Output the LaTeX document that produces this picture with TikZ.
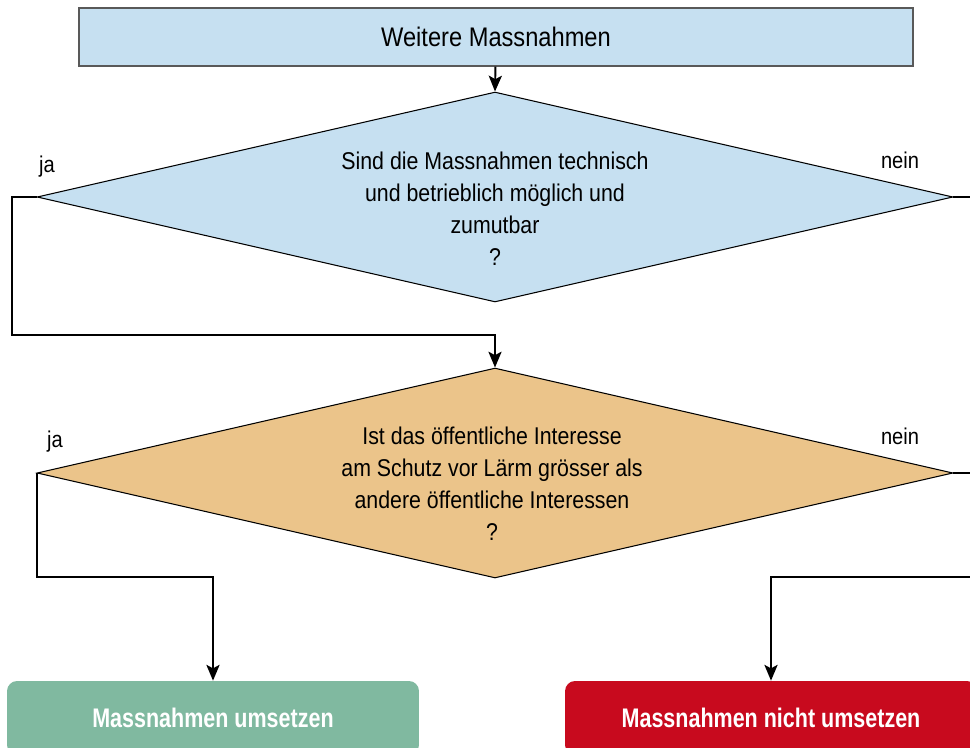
\documentclass[tikz,border=0pt]{standalone}
\usepackage{fontspec}
\setmainfont[FakeStretch=0.88]{Liberation Sans}
\newfontfamily\boxfont[FakeStretch=0.8]{Liberation Sans}
\usepackage{tikz}
\usetikzlibrary{arrows.meta,shapes.geometric}
\tikzset{>={Stealth[length=9pt,width=7.5pt,inset=2pt]}}
\definecolor{frageblau}{RGB}{198,224,241}
\definecolor{frageorange}{RGB}{235,196,138}
\definecolor{jagruen}{RGB}{128,185,160}
\definecolor{neinrot}{RGB}{200,10,30}

\begin{document}
\begin{tikzpicture}[x=0.02cm,y=-0.02cm]

\tikzstyle{titel}=[draw=black!65,line width=0.8pt,fill=frageblau,minimum width=16.68cm,minimum height=1.16cm,font=\fontsize{15.3}{18}\selectfont]
\tikzstyle{frage}=[diamond,draw,line width=0.6pt,minimum width=18.32cm,minimum height=4.2cm,inner sep=0pt]
\tikzstyle{fragetext}=[align=center,font=\fontsize{13.8}{18.2}\selectfont]
\tikzstyle{antwort}=[font=\fontsize{13}{15}\selectfont]
\tikzstyle{ende}=[rounded corners=0.2cm,minimum width=8.24cm,minimum height=1.48cm,text=white,font=\boxfont\bfseries\fontsize{15.3}{18}\selectfont]
\tikzstyle{pfeil}=[line width=1.1pt,->]

  \useasboundingbox (0,0) rectangle (970,747);
  \clip (0,0) rectangle (970,747);

  \node[titel] (weitere) at (496,37) {Weitere Massnahmen};

  \node[frage,fill=frageblau] (f1) at (495,197) {};
  \node[fragetext] (f1text) at (495,209) {Sind die Massnahmen technisch\\und betrieblich möglich und\\zumutbar\\?};

  \node[frage,fill=frageorange] (f2) at (495,473) {};
  \node[fragetext] (f2text) at (492,484) {Ist das öffentliche Interesse\\am Schutz vor Lärm grösser als\\andere öffentliche Interessen\\?};

  \node[ende,fill=jagruen] (umsetzen) at (213,718) {Massnahmen umsetzen};
  \node[ende,fill=neinrot] (nichtumsetzen) at (771,718) {Massnahmen nicht umsetzen};

  \node[antwort] (ja1) at (47,167) {ja};
  \node[antwort] (nein1) at (900,160) {nein};
  \node[antwort] (ja2) at (55,442) {ja};
  \node[antwort] (nein2) at (900,436) {nein};

  \coordinate (knick1) at (495,335);
  \coordinate (knick2) at (213,577);
  \coordinate (knick3) at (771,577);
  \coordinate (rand) at (990,473);

  \draw[pfeil] (weitere) -- (f1.north);
  \draw[pfeil] (f1.west) -- ++(-25,0) |- (knick1) -- (f2.north);
  \draw[line width=1.1pt] (f1.east) -| (rand);
  \draw[pfeil] (f2.west) |- (knick2) -- (umsetzen.north);
  \draw[pfeil] (f2.east) -- (rand) |- (knick3) -- (nichtumsetzen.north);
\end{tikzpicture}
\end{document}
